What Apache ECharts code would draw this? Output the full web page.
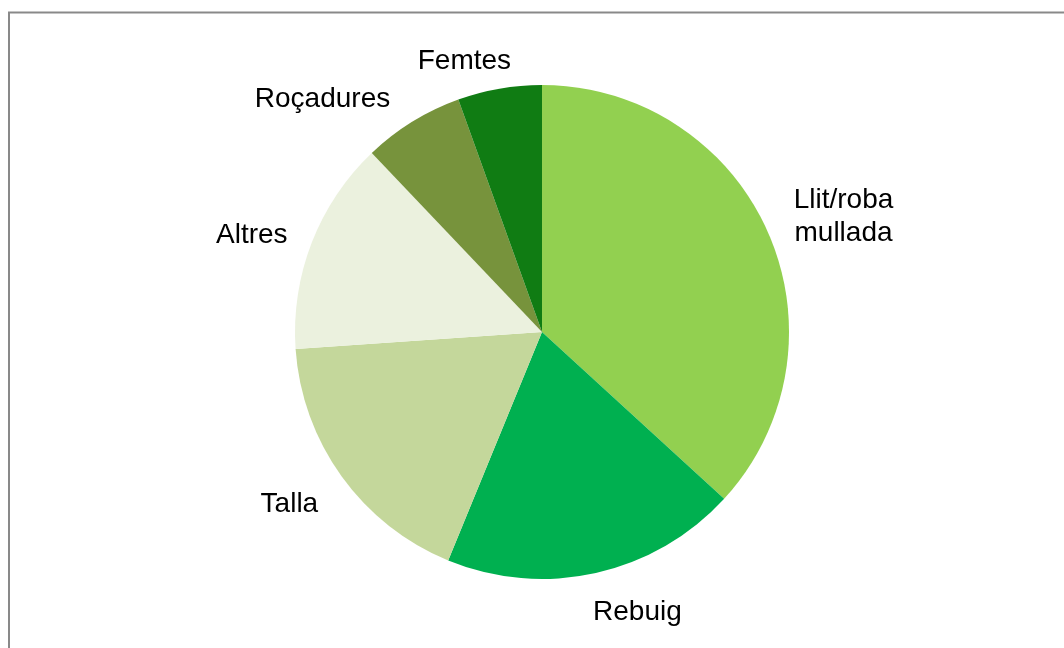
<!DOCTYPE html>
<html>
<head>
<meta charset="utf-8">
<script src="https://cdn.jsdelivr.net/npm/echarts@6/dist/echarts.min.js"></script>
<style>
html,body{margin:0;padding:0;background:#fff;}
#chart{width:1064px;height:648px;}
</style>
</head>
<body>
<div id="chart"></div>
<script>
const categories = ["Llit/roba mullada", "Rebuig", "Talla", "Altres", "Roçadures", "Femtes"];
const values = [36.8, 19.4, 17.7, 14.0, 6.6, 5.5];
const colors = ["#92D050", "#00B050", "#C4D79B", "#EBF1DE", "#77933C", "#107C13"];
// label nudges (dx, dy) relative to ECharts' outside placement
const labelOffsets = [[43, -4], [30, 10], [-23, 10], [-27, 4], [-69, 3], [-25, 2]];

const chart = echarts.init(document.getElementById('chart'), null, {renderer: 'canvas'});
chart.setOption({
  backgroundColor: '#ffffff',
  animation: false,
  graphic: [{
    type: 'rect',
    z: -10,
    silent: true,
    shape: {x: 9, y: 12.5, width: 1100, height: 700},
    style: {fill: '#ffffff', stroke: '#898989', lineWidth: 2}
  }],
  series: [{
    type: 'pie',
    center: [542, 332],
    radius: 247,
    startAngle: 90,
    clockwise: true,
    avoidLabelOverlap: false,
    data: categories.map((c, i) => ({name: c, value: values[i], itemStyle: {color: colors[i]}})),
    itemStyle: {borderWidth: 0},
    emphasis: {disabled: true},
    label: {
      show: true,
      position: 'outside',
      fontFamily: '"Liberation Sans", Arial, sans-serif',
      fontSize: 28,
      color: '#000000',
      lineHeight: 33,
      formatter: p => p.name.length > 12 ? p.name.replace(' ', '\n') : p.name
    },
    labelLine: {show: false, length: 30, length2: 0},
    labelLayout: params => ({
      align: 'center',
      dx: labelOffsets[params.dataIndex][0],
      dy: labelOffsets[params.dataIndex][1]
    })
  }]
});
</script>
</body>
</html>
